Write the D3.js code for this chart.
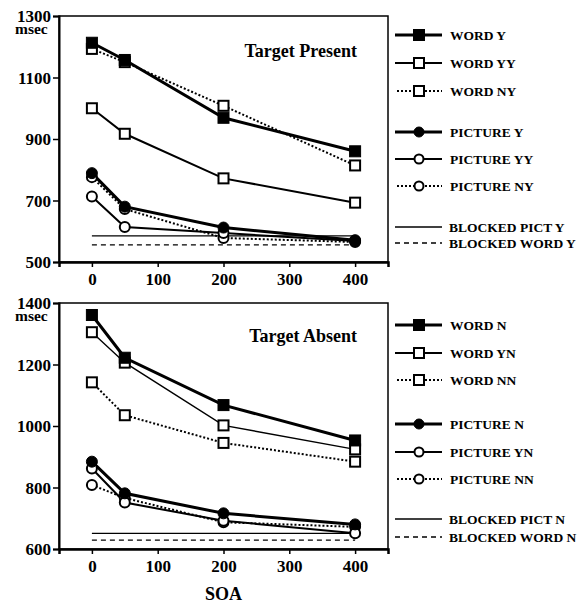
<!DOCTYPE html>
<html>
<head>
<meta charset="utf-8">
<script src="https://cdn.jsdelivr.net/npm/d3@7"></script>
<style>
  body { margin: 0; background: #fff; }
  svg text { font-family: "Liberation Serif", "Times New Roman", serif; font-weight: bold; fill: #000; }
</style>
</head>
<body>
<div id="chart"></div>
<script>
// SOA values on the x axis
const soa = [0, 50, 200, 400];
const xTicks = [0, 100, 200, 300, 400];

// Target present panel (msec)
const presentTicks = [500, 700, 900, 1100, 1300];
const wordY = [1213, 1157, 969, 860];
const wordYY = [1000, 917, 772, 693];
const wordNY = [1193, 1150, 1008, 814];
const pictureY = [789, 680, 612, 571];
const pictureYY = [713, 614, 594, 568];
const pictureNY = [776, 672, 578, 565];
const blockedPictY = 585;
const blockedWordY = 556;

// Target absent panel (msec)
const absentTicks = [600, 800, 1000, 1200, 1400];
const wordN = [1361, 1222, 1068, 953];
const wordYN = [1305, 1206, 1002, 924];
const wordNN = [1142, 1035, 945, 884];
const pictureN = [884, 781, 716, 680];
const pictureYN = [862, 751, 692, 651];
const pictureNN = [808, 766, 687, 672];
const blockedPictN = 651;
const blockedWordN = 629;

const svg = d3.select('#chart').append('svg')
  .attr('width', 585)
  .attr('height', 605);

// shared x scale, both panels use same horizontal extent
const x = d3.scaleLinear().domain([-50, 450]).range([59, 388]);

// line styles: thick = filled markers, solid = open solid, dotted = open dotted
const styles = {
  thick: { width: 3, dash: null, fill: '#000' },
  solid: { width: 2, dash: null, fill: '#fff' },
  thin: { width: 1.4, dash: null, fill: '#fff' },
  dotted: { width: 2, dash: '2,2', fill: '#fff' }
};

function drawMarker(g, shape, style, cx, cy, legend) {
  if (shape === 'square') {
    const s = style.fill === '#000' ? 11 : 10;
    g.append('rect')
      .attr('x', cx - s / 2).attr('y', cy - s / 2)
      .attr('width', s).attr('height', s)
      .attr('fill', style.fill)
      .attr('stroke', '#000')
      .attr('stroke-width', style.fill === '#000' ? 1 : 2);
  } else {
    const r = style.fill === '#000' ? 5.5 : 5;
    g.append('circle')
      .attr('cx', cx).attr('cy', cy).attr('r', legend ? r - 0.5 : r)
      .attr('fill', style.fill)
      .attr('stroke', '#000')
      .attr('stroke-width', style.fill === '#000' ? 1 : 2);
  }
}

function drawPanel(cfg) {
  const y = d3.scaleLinear().domain(cfg.domain).range([cfg.bottom, cfg.top]);
  const g = svg.append('g');

  // frame
  g.append('rect')
    .attr('x', x(-50)).attr('y', cfg.top)
    .attr('width', x(450) - x(-50)).attr('height', cfg.bottom - cfg.top)
    .attr('fill', 'none').attr('stroke', '#000').attr('stroke-width', 1.5);

  // y axis
  const yAxis = g.append('g')
    .attr('transform', `translate(${x(-50)},0)`)
    .call(d3.axisLeft(y).tickValues(cfg.ticks).tickFormat(d3.format('d')).tickSize(6).tickPadding(2));
  yAxis.select('.domain').attr('stroke-width', 2);
  yAxis.selectAll('.tick line').attr('stroke-width', 1.5);
  yAxis.selectAll('text').style('font-size', '17px').attr('dy', '0.34em');

  // msec unit under top tick
  g.append('text')
    .attr('x', 15).attr('y', cfg.top + 18)
    .style('font-size', '15.5px')
    .text('msec');

  // x axis
  const xAxis = g.append('g')
    .attr('transform', `translate(0,${cfg.bottom})`)
    .call(d3.axisBottom(x).tickValues(xTicks).tickFormat(d3.format('d')).tickSize(5).tickPadding(6));
  xAxis.select('.domain').attr('stroke-width', 2.5);
  xAxis.selectAll('.tick line').attr('stroke-width', 1.5);
  xAxis.selectAll('text').style('font-size', '17px');

  // title
  g.append('text')
    .attr('x', 357).attr('y', cfg.top + cfg.titleDy)
    .attr('text-anchor', 'end')
    .style('font-size', '18px')
    .text(cfg.title);

  // blocked baselines
  g.append('line')
    .attr('x1', x(0)).attr('x2', x(400))
    .attr('y1', y(cfg.blockedPict)).attr('y2', y(cfg.blockedPict))
    .attr('stroke', '#000').attr('stroke-width', 1.3);
  g.append('line')
    .attr('x1', x(0)).attr('x2', x(400))
    .attr('y1', y(cfg.blockedWord)).attr('y2', y(cfg.blockedWord))
    .attr('stroke', '#000').attr('stroke-width', 1.3)
    .attr('stroke-dasharray', '5,4');

  const line = d3.line().x((d, i) => x(soa[i])).y(d => y(d));

  // lines first, then markers
  cfg.series.forEach(s => {
    const st = styles[s.style];
    g.append('path')
      .datum(s.values)
      .attr('d', line)
      .attr('fill', 'none')
      .attr('stroke', '#000')
      .attr('stroke-width', st.width)
      .attr('stroke-dasharray', st.dash);
  });
  cfg.series.forEach(s => {
    const st = styles[s.style];
    s.values.forEach((v, i) => drawMarker(g, s.shape, st, x(soa[i]), y(v)));
  });

  // legend
  const lg = svg.append('g');
  cfg.legend.forEach(item => {
    const ly = item.y;
    if (item.blocked) {
      lg.append('line')
        .attr('x1', 395).attr('x2', 442).attr('y1', ly).attr('y2', ly)
        .attr('stroke', '#000').attr('stroke-width', 1.3)
        .attr('stroke-dasharray', item.blocked === 'dashed' ? '5,4' : null);
    } else {
      const st = styles[item.style === 'thin' ? 'solid' : item.style];
      lg.append('line')
        .attr('x1', item.style === 'dotted' ? 397 : 395).attr('x2', 442)
        .attr('y1', ly).attr('y2', ly)
        .attr('stroke', '#000').attr('stroke-width', st.width)
        .attr('stroke-dasharray', st.dash);
      drawMarker(lg, item.shape, st, 419, ly, true);
    }
    lg.append('text')
      .attr('x', item.blocked ? 449 : 450).attr('y', ly)
      .attr('dy', '0.35em')
      .style('font-size', '13.5px')
      .text(item.label);
  });
}

drawPanel({
  top: 16, bottom: 262, domain: [500, 1300], ticks: presentTicks,
  title: 'Target Present', titleDy: 41,
  blockedPict: blockedPictY, blockedWord: blockedWordY,
  series: [
    { values: pictureNY, shape: 'circle', style: 'dotted' },
    { values: pictureYY, shape: 'circle', style: 'solid' },
    { values: pictureY, shape: 'circle', style: 'thick' },
    { values: wordNY, shape: 'square', style: 'dotted' },
    { values: wordYY, shape: 'square', style: 'solid' },
    { values: wordY, shape: 'square', style: 'thick' }
  ],
  legend: [
    { label: 'WORD Y', shape: 'square', style: 'thick', y: 35 },
    { label: 'WORD YY', shape: 'square', style: 'solid', y: 63 },
    { label: 'WORD NY', shape: 'square', style: 'dotted', y: 91 },
    { label: 'PICTURE Y', shape: 'circle', style: 'thick', y: 132 },
    { label: 'PICTURE YY', shape: 'circle', style: 'solid', y: 159 },
    { label: 'PICTURE NY', shape: 'circle', style: 'dotted', y: 186 },
    { label: 'BLOCKED PICT Y', blocked: 'solid', y: 227 },
    { label: 'BLOCKED WORD Y', blocked: 'dashed', y: 243 }
  ]
});

drawPanel({
  top: 303, bottom: 549, domain: [600, 1400], ticks: absentTicks,
  title: 'Target Absent', titleDy: 39,
  blockedPict: blockedPictN, blockedWord: blockedWordN,
  series: [
    { values: pictureNN, shape: 'circle', style: 'dotted' },
    { values: pictureYN, shape: 'circle', style: 'solid' },
    { values: pictureN, shape: 'circle', style: 'thick' },
    { values: wordNN, shape: 'square', style: 'dotted' },
    { values: wordYN, shape: 'square', style: 'thin' },
    { values: wordN, shape: 'square', style: 'thick' }
  ],
  legend: [
    { label: 'WORD N', shape: 'square', style: 'thick', y: 325 },
    { label: 'WORD YN', shape: 'square', style: 'solid', y: 353 },
    { label: 'WORD NN', shape: 'square', style: 'dotted', y: 380 },
    { label: 'PICTURE N', shape: 'circle', style: 'thick', y: 424 },
    { label: 'PICTURE YN', shape: 'circle', style: 'solid', y: 452 },
    { label: 'PICTURE NN', shape: 'circle', style: 'dotted', y: 479 },
    { label: 'BLOCKED PICT N', blocked: 'solid', y: 519 },
    { label: 'BLOCKED WORD N', blocked: 'dashed', y: 537 }
  ]
});

// x axis title
svg.append('text')
  .attr('x', (x(-50) + x(450)) / 2).attr('y', 600)
  .attr('text-anchor', 'middle')
  .style('font-size', '18px')
  .text('SOA');
</script>
</body>
</html>
